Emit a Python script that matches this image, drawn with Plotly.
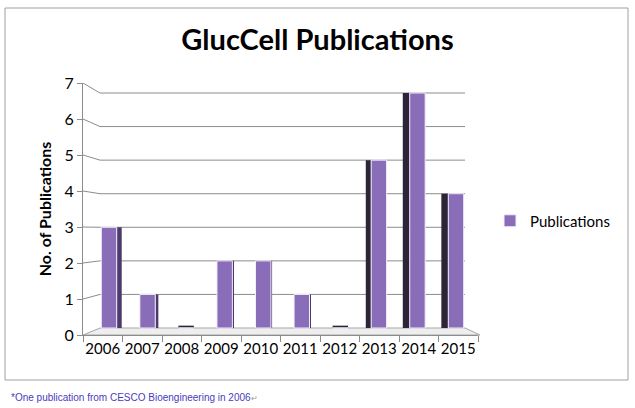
import plotly.graph_objects as go

years = ["2006", "2007", "2008", "2009", "2010", "2011", "2012", "2013", "2014", "2015"]
publications = [3, 1, 0, 2, 2, 1, 0, 5, 7, 4]
y_ticks = [0, 1, 2, 3, 4, 5, 6, 7]

# ---- layout geometry (pixels) ----
W, H = 635, 408
PX_L, PX_R, PX_T, PX_B = 83, 478, 83, 335   # front plot frame
BACK_0, BACK_7 = 328, 93                      # back wall pixel rows for 0 and 7
BACK_L, BACK_R = 100, 465                     # back wall x extent
FRONT_UNIT = (PX_B - PX_T) / 7.0
BACK_UNIT = (BACK_0 - BACK_7) / 7.0


def px_x(px):
    return (px - PX_L) / (PX_R - PX_L)


def px_y(py):
    return (PX_B - py) / (PX_B - PX_T)


def front_to_back(v):
    # value on the front axis expressed on the back-wall scale
    return (BACK_0 - (PX_B - FRONT_UNIT * v)) / BACK_UNIT


y2_range = [-(PX_B - BACK_0) / BACK_UNIT, 7 + (BACK_7 - PX_T) / BACK_UNIT]
# bars sit in a mid-depth plane
MID_FIRST, MID_LAST = 109, 456
cat_px = (MID_LAST - MID_FIRST) / 9.0
x2_range = [-(MID_FIRST - PX_L) / cat_px, 9 + (PX_R - MID_LAST) / cat_px]

# side-face style per bar (visible side width in category units, side)
side_w = [0.13, 0.08, 0.0, 0.03, 0.03, 0.03, 0.0, 0.14, 0.18, 0.18]
side_right = [True, True, True, True, True, True, True, False, False, False]
BAR_W = 0.4
side_off = [BAR_W / 2 if r else -BAR_W / 2 - w for r, w in zip(side_right, side_w)]
side_col = ["#4e3a6a" if r else "#2e2438" for r in side_right]
# top faces: only visible (dark) for the empty years sitting on the floor
top_col = ["#2e2438" if v == 0 else "rgba(0,0,0,0)" for v in publications]

fig = go.Figure()

# invisible trace to establish front category axis
fig.add_trace(go.Scatter(x=years, y=[0] * len(years), mode="markers",
                         marker=dict(opacity=0), showlegend=False, hoverinfo="skip",
                         xaxis="x", yaxis="y"))

# side faces
fig.add_trace(go.Bar(x=years, y=publications, base=0, width=side_w, offset=side_off,
                     marker=dict(color=side_col, line=dict(width=0)),
                     showlegend=False, hoverinfo="skip", xaxis="x2", yaxis="y2"))

# top faces of empty bars
fig.add_trace(go.Bar(x=years, y=[0.07] * len(years), base=publications,
                     width=BAR_W, offset=-BAR_W / 2,
                     marker=dict(color=top_col, line=dict(width=0)),
                     showlegend=False, hoverinfo="skip", xaxis="x2", yaxis="y2"))

# front faces
fig.add_trace(go.Bar(x=years, y=publications, base=0, width=BAR_W, offset=-BAR_W / 2,
                     name="Publications",
                     marker=dict(color="#8a6db9", line=dict(color="#f3eefa", width=1)),
                     xaxis="x2", yaxis="y2"))

shapes = []
# outer border
shapes.append(dict(type="rect", xref="paper", yref="paper",
                   x0=px_x(5), x1=px_x(628), y0=px_y(380), y1=px_y(8),
                   line=dict(color="#a0a0a0", width=1), layer="below"))
# floor
shapes.append(dict(type="path", xref="paper", yref="paper",
                   path="M {},{} L {},{} L {},{} L {},{} Z".format(
                       px_x(PX_L), px_y(PX_B), px_x(BACK_L), px_y(BACK_0),
                       px_x(BACK_R), px_y(BACK_0), px_x(480), px_y(PX_B)),
                   fillcolor="#eeeeee", line=dict(color="#a6a6a6", width=1), layer="below"))
# gridlines (left wall slant + back wall)
for v in y_ticks[1:]:
    shapes.append(dict(type="line", xref="paper", yref="y2",
                       x0=px_x(PX_L), y0=front_to_back(v), x1=px_x(BACK_L), y1=v,
                       line=dict(color="#8c8c8c", width=1), layer="below"))
    shapes.append(dict(type="line", xref="paper", yref="y2",
                       x0=px_x(BACK_L), y0=v, x1=px_x(BACK_R), y1=v,
                       line=dict(color="#8c8c8c", width=1), layer="below"))

fig.update_layout(
    width=W, height=H,
    margin=dict(l=PX_L, r=W - PX_R, t=PX_T, b=H - PX_B, pad=0),
    paper_bgcolor="white", plot_bgcolor="rgba(0,0,0,0)",
    font=dict(family="Lato, Open Sans, sans-serif", color="#000000"),
    title=dict(text="<b>GlucCell Publications</b>", x=0.5, xanchor="center",
               y=1 - 40 / H, yanchor="middle",
               font=dict(family="Lato, sans-serif", size=29, color="#000000")),
    xaxis=dict(type="category", categoryorder="array", categoryarray=years,
               range=[-0.5, 9.5], showgrid=False, zeroline=False,
               showline=True, linecolor="#8c8c8c", linewidth=1,
               ticks="outside", tickson="boundaries", ticklen=6, tickcolor="#8c8c8c",
               tickangle=0, tickfont=dict(size=15, color="#000000")),
    yaxis=dict(range=[0, 7], tickvals=y_ticks, showgrid=False, zeroline=False,
               showline=True, linecolor="#8c8c8c", linewidth=1,
               ticks="outside", ticklen=5, tickcolor="#8c8c8c",
               tickfont=dict(size=16, color="#000000"),
               title=dict(text="<b>No. of Publications</b>", standoff=8,
                          font=dict(size=16, color="#000000"))),
    xaxis2=dict(type="category", categoryorder="array", categoryarray=years,
                overlaying="x", range=x2_range, visible=False),
    yaxis2=dict(overlaying="y", range=y2_range, visible=False),
    barmode="overlay",
    showlegend=True,
    legend=dict(x=px_x(490), xanchor="left", y=px_y(221), yanchor="middle",
                font=dict(size=15, color="#000000"), bgcolor="rgba(0,0,0,0)",
                itemwidth=30, traceorder="normal"),
    shapes=shapes,
    annotations=[dict(text="*One publication from CESCO Bioengineering in 2006"
                           "<span style='font-size:8px;color:#999999'>\u21b5</span>",
                      xref="paper", yref="paper", x=px_x(9), y=px_y(397),
                      xanchor="left", yanchor="middle", showarrow=False,
                      font=dict(family="Liberation Sans, sans-serif",
                                size=10, color="#4a3cc0"))],
)

fig.write_html("out.html", config={"displayModeBar": False},
               post_script="document.body.style.margin='0';document.body.style.overflow='hidden';")
